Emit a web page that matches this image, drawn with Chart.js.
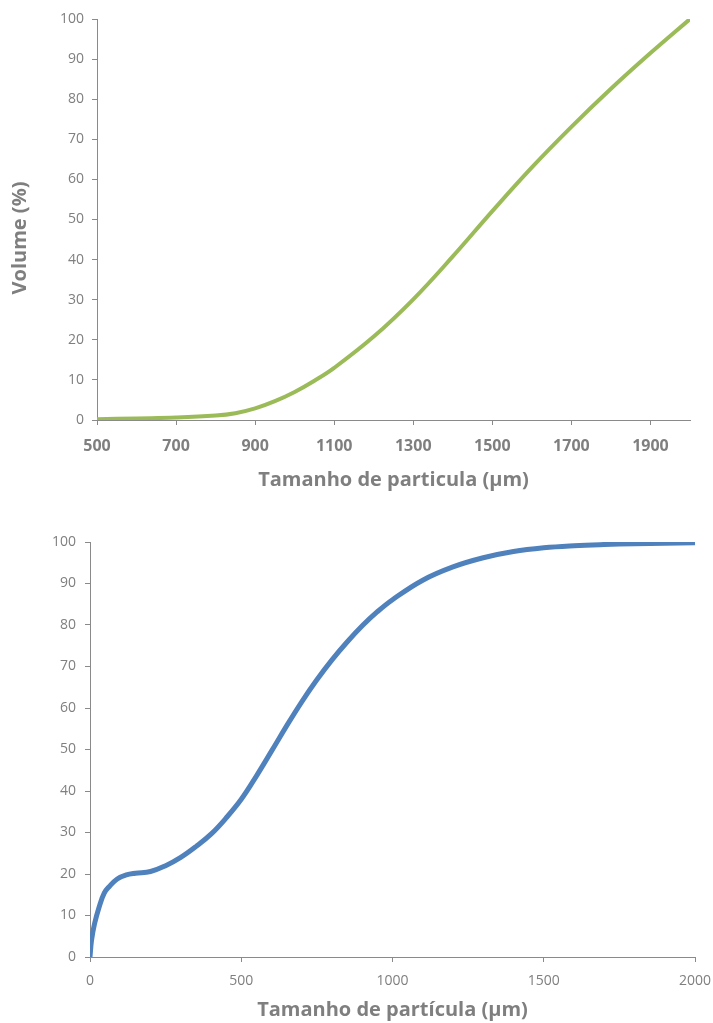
<!DOCTYPE html>
<html>
<head>
<meta charset="utf-8">
<script src="https://cdn.jsdelivr.net/npm/chart.js@4.4.1/dist/chart.umd.min.js"></script>
<style>
  html, body { margin: 0; padding: 0; background: #fff; width: 713px; height: 1023px; overflow: hidden; }
  canvas { position: absolute; left: 0; }
  #topChart { top: 0; }
  #bottomChart { top: 520px; }
</style>
</head>
<body>
<canvas id="topChart" width="713" height="500"></canvas>
<canvas id="bottomChart" width="713" height="503"></canvas>
<script>
// Cumulative volume curves (particle size in µm, volume in %)
const topSizes   = [500, 600, 700, 800, 850, 900, 950, 1000, 1050, 1100, 1200, 1300, 1400, 1500, 1600, 1700, 1800, 1900, 2000];
const topVolume  = [0.2, 0.4, 0.6, 1.1, 1.7, 2.9, 4.7, 7.0, 9.8, 13.0, 20.8, 30.1, 40.8, 52.1, 63.0, 73.1, 82.6, 91.5, 100];
const topXTicks  = [500, 700, 900, 1100, 1300, 1500, 1700, 1900];

const bottomSizes  = [0, 5, 15, 30, 47, 64, 90, 120, 150, 200, 250, 300, 350, 400, 450, 500, 550, 600, 650, 700, 750, 800, 850, 900, 950, 1000, 1100, 1200, 1300, 1400, 1500, 1600, 1700, 1800, 1900, 2000];
const bottomVolume = [0, 4, 8, 12, 15.4, 17, 18.8, 19.8, 20.2, 20.6, 22.0, 24.0, 26.6, 29.6, 33.5, 38.0, 43.6, 49.6, 55.7, 61.5, 66.8, 71.6, 75.9, 79.8, 83.2, 86.1, 90.8, 94.0, 96.2, 97.7, 98.6, 99.1, 99.4, 99.6, 99.7, 99.8];
const bottomXTicks = [0, 500, 1000, 1500, 2000];

const yTicks = [0, 10, 20, 30, 40, 50, 60, 70, 80, 90, 100];

const yTitle       = 'Volume (%)';
const topXTitle    = 'Tamanho de particula (µm)';
const bottomXTitle = 'Tamanho de partícula (µm)';

const FONT = "'Open Sans', 'DejaVu Sans', sans-serif";
const TEXT = '#7f7f7f';
const AXIS = '#8a8a8a';

// Rotated y-axis title drawn at a fixed spot on the canvas
const sideTitle = {
  id: 'sideTitle',
  afterDraw(chart, args, opts) {
    const ctx = chart.ctx;
    ctx.save();
    ctx.font = `bold ${opts.size}px ${FONT}`;
    ctx.fillStyle = TEXT;
    ctx.translate(opts.x, opts.y);
    ctx.rotate(-Math.PI / 2);
    ctx.textAlign = 'center';
    ctx.textBaseline = 'middle';
    ctx.fillText(opts.text, 0, 0);
    ctx.restore();
  }
};

const plainNumber = v => String(v);

function makeChart(id, cfg) {
  const points = cfg.sizes.map((s, i) => ({ x: s, y: cfg.volume[i] }));
  return new Chart(document.getElementById(id), {
    type: 'line',
    data: {
      datasets: [{
        data: points,
        borderColor: cfg.color,
        borderWidth: cfg.lineWidth,
        borderCapStyle: 'round',
        borderJoinStyle: 'round',
        pointRadius: 0,
        tension: 0.4,
        fill: false
      }]
    },
    plugins: [sideTitle],
    options: {
      responsive: false,
      devicePixelRatio: 1,
      animation: false,
      events: [],
      layout: { padding: cfg.padding },
      plugins: {
        legend: { display: false },
        tooltip: { enabled: false },
        sideTitle: cfg.yTitle
      },
      scales: {
        x: {
          type: 'linear',
          min: cfg.xMin,
          max: cfg.xMax,
          afterBuildTicks: s => { s.ticks = cfg.xTicks.map(v => ({ value: v })); },
          afterFit: s => { s.height = cfg.xAxisHeight; s.paddingLeft = 0; s.paddingRight = 0; },
          grid: { drawOnChartArea: false, drawTicks: true, tickLength: 5, color: AXIS },
          border: { color: AXIS, width: 1 },
          ticks: {
            color: TEXT,
            padding: cfg.xTickPad,
            maxRotation: 0,
            autoSkip: false,
            callback: plainNumber,
            font: { family: FONT, size: cfg.xTickSize, weight: cfg.xTickWeight }
          },
          title: {
            display: true,
            text: cfg.xTitle,
            color: TEXT,
            font: { family: FONT, size: 20, weight: 'bold' },
            padding: { top: 0, bottom: cfg.xTitlePad }
          }
        },
        y: {
          type: 'linear',
          min: 0,
          max: 100,
          afterBuildTicks: s => { s.ticks = yTicks.map(v => ({ value: v })); },
          afterFit: s => { s.width = cfg.yAxisWidth; },
          grid: { drawOnChartArea: false, drawTicks: true, tickLength: 5, color: AXIS },
          border: { color: AXIS, width: 1 },
          ticks: {
            color: TEXT,
            padding: cfg.yTickPad,
            callback: plainNumber,
            font: { family: FONT, size: 14 }
          }
        }
      }
    }
  });
}

makeChart('topChart', {
  sizes: topSizes, volume: topVolume, xTicks: topXTicks,
  xMin: 500, xMax: 2000,
  color: '#9bbb59', lineWidth: 4,
  padding: { top: 19, right: 23, left: 0, bottom: 0 },
  xAxisHeight: 80, yAxisWidth: 97,
  xTickPad: 12, xTickSize: 16, xTickWeight: 'bold',
  yTickPad: 8,
  xTitle: topXTitle, xTitlePad: 8,
  yTitle: { text: yTitle, x: 20, y: 238, size: 20 }
});

makeChart('bottomChart', {
  sizes: bottomSizes, volume: bottomVolume, xTicks: bottomXTicks,
  xMin: 0, xMax: 2000,
  color: '#4f81bd', lineWidth: 5,
  padding: { top: 22, right: 18, left: 0, bottom: 0 },
  xAxisHeight: 66, yAxisWidth: 90,
  xTickPad: 11, xTickSize: 14, xTickWeight: 'normal',
  yTickPad: 9,
  xTitle: bottomXTitle, xTitlePad: 1,
  yTitle: { text: yTitle, x: 30, y: 749, size: 20 }
});
</script>
</body>
</html>
